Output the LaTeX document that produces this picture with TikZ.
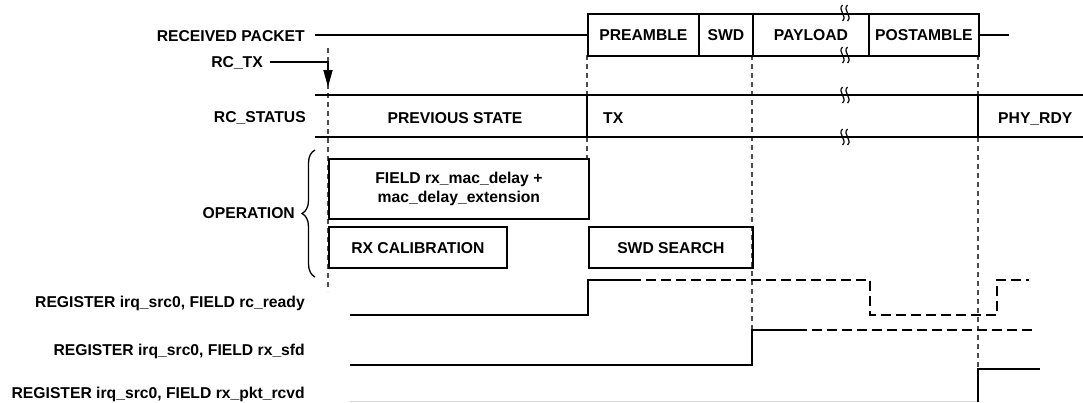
\documentclass[tikz,border=0pt]{standalone}
\usepackage{fontspec}
\setmainfont{Liberation Sans}
\usetikzlibrary{arrows.meta,decorations.pathreplacing}
\begin{document}
\begin{tikzpicture}[x=1pt,y=-1pt,
  txt/.style={font=\fontsize{15.7}{18}\selectfont\bfseries, inner sep=0pt},
  sig/.style={line width=1.8pt},
  fut/.style={line width=1.8pt, dash pattern=on 10pt off 5pt},
  guide/.style={line width=1.2pt, draw=black!70, dash pattern=on 5pt off 4pt},
  cell/.style={txt, draw, line width=1.8pt, minimum height=42pt, text height=11.3pt, text depth=0pt, anchor=north west},
  opbox/.style={txt, draw, line width=1.8pt, anchor=north west, align=center},
  brkline/.style={line width=1.2pt},
  brk/.pic={
    \draw[brkline] (-2.5,-8) .. controls (-8,-3) and (3,3) .. (-2.5,8);
    \draw[brkline] (2.5,-8) .. controls (-3,-3) and (8,3) .. (2.5,8);
  }
]
\useasboundingbox (0,0) rectangle (1083,402);

% ---------- labels ----------
\node[txt, anchor=base east] (lpkt) at (305,41.5) {RECEIVED PACKET};
\node[txt, anchor=base east] (ltx)  at (263,67.5) {RC\_TX};
\node[txt, anchor=base east] (lst)  at (306,122.5) {RC\_STATUS};
\node[txt, anchor=base east] (lop)  at (295,218) {OPERATION};
\node[txt, anchor=base east] (lrdy) at (305,307) {REGISTER irq\_src0, FIELD rc\_ready};
\node[txt, anchor=base east] (lsfd) at (305,355) {REGISTER irq\_src0, FIELD rx\_sfd};
\node[txt, anchor=base east] (lpkr) at (305,398) {REGISTER irq\_src0, FIELD rx\_pkt\_rcvd};

% ---------- named coordinates ----------
\coordinate (pktL) at (315,35);
\coordinate (txL) at (270,62);
\coordinate (txT) at (328,62);
\coordinate (txA) at (328,87);
\coordinate (stL1) at (315,95);  \coordinate (stR1) at (1083,95);
\coordinate (stL2) at (315,137); \coordinate (stR2) at (1083,137);

% ---------- guides (dashed verticals) ----------
\draw[guide] (328,48) -- (328,291);
\draw[guide] (587,55) -- (587,95);
\draw[guide] (587,137) -- (587,158);
\draw[guide] (752,55) -- (752,330);
\draw[guide] (978,55) -- (978,95);
\draw[guide] (978,137) -- (978,369);

% ---------- received packet ----------
\node[cell, minimum width=111pt] (pre) at (587,13) {PREAMBLE};
\node[cell, minimum width=54pt]  (swd) at (698,13) {SWD};
\node[cell, minimum width=116pt] (pay) at (752,13) {PAYLOAD};
\node[cell, minimum width=110pt] (post) at (868,13) {POSTAMBLE};
\draw[sig] (pktL) -- (pre.west);
\draw[sig] (post.east) -- ++(29,0) coordinate (pktR);
\pic at (845,13) {brk};
\pic at (845,55) {brk};

% ---------- RC_TX ----------
\draw[sig, -{Triangle[length=17pt,width=9pt]}] (txL) -- (txT) -- (txA);

% ---------- RC_STATUS ----------
\draw[sig] (stL1) -- (stR1);
\draw[sig] (stL2) -- (stR2);
\draw[sig] (587,95) -- (587,137);
\draw[sig] (978,95) -- (978,137);
\node[txt, anchor=base] (sprev) at (455,123) {PREVIOUS STATE};
\node[txt, anchor=base west] (stx) at (603,123) {TX};
\node[txt, anchor=base west] (sphy) at (998,123) {PHY\_RDY};
\pic at (845,95) {brk};
\pic at (845,137) {brk};

% ---------- operation ----------
\node[opbox, minimum width=260pt, minimum height=60pt] (fld) at (328,158)
  {FIELD rx\_mac\_delay +\\[1pt]mac\_delay\_extension};
\node[opbox, minimum width=178pt, minimum height=41pt, text height=11.3pt, text depth=0pt] (cal) at (328,226) {RX CALIBRATION};
\node[opbox, minimum width=164pt, minimum height=41pt, text height=11.3pt, text depth=0pt] (srch) at (588,226) {SWD SEARCH};
\draw[line width=1.3pt, decorate, decoration={brace, amplitude=13pt, aspect=0.5}] (315,277) -- (315,150);

% ---------- irq signals ----------
\draw[sig] (350,315) -- (588,315) -- (588,280) -- (641,280);
\draw[fut] (646,280) -- (870,280) -- (870,315) -- (997,315) -- (997,280) -- (1029,280);
\draw[sig] (350,365) -- (752,365) -- (752,330) -- (807,330);
\draw[fut] (812,330) -- (1032,330);
\draw[sig, draw=black!15] (350,401.5) -- (978,401.5);
\draw[sig] (978,402) -- (978,369) -- (1040,369);
\end{tikzpicture}
\end{document}
